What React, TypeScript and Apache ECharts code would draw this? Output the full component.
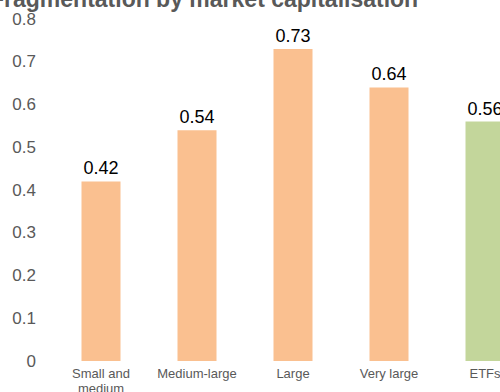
import React, { useEffect, useRef } from "react";
import * as echarts from "echarts";

const categories = ["Small and\nmedium", "Medium-large", "Large", "Very large", "ETFs"];
const values = [0.42, 0.54, 0.73, 0.64, 0.56];
const barColors = ["#FAC090", "#FAC090", "#FAC090", "#FAC090", "#C3D69B"];
const titleText = "Fragmentation by market capitalisation";

export default function App() {
  const ref = useRef<HTMLDivElement>(null);
  useEffect(() => {
    if (!ref.current) return;
    const chart = echarts.init(ref.current, undefined, { renderer: "svg" });
    chart.setOption({
      animation: false,
      title: {
        text: titleText,
        left: -15,
        top: -18,
        textStyle: {
          fontFamily: "Liberation Sans, Arial, sans-serif",
          fontWeight: "bold",
          fontSize: 23,
          color: "#595959",
        },
      },
      grid: { left: 53, right: 0, top: 19, bottom: 31, containLabel: false, outerBoundsMode: "none" },
      xAxis: {
        type: "category",
        data: categories,
        axisLine: { show: false },
        axisTick: { show: false },
        axisLabel: {
          color: "#595959",
          fontSize: 13,
          lineHeight: 15,
          margin: 5,
          interval: 0,
          fontFamily: "Liberation Sans, Arial, sans-serif",
        },
      },
      yAxis: {
        type: "value",
        min: 0,
        max: 0.8,
        interval: 0.1,
        splitLine: { show: false },
        axisLine: { show: false },
        axisTick: { show: false },
        axisLabel: {
          color: "#595959",
          fontSize: 17,
          margin: 17,
          fontFamily: "Liberation Sans, Arial, sans-serif",
        },
      },
      series: [
        {
          type: "bar",
          barWidth: 39,
          data: values.map((v, i) => ({ value: v, itemStyle: { color: barColors[i] } })),
          label: {
            show: true,
            position: "top",
            distance: 4,
            color: "#000000",
            fontSize: 18,
            fontFamily: "Liberation Sans, Arial, sans-serif",
          },
        },
      ],
    });
    return () => chart.dispose();
  }, []);
  return (
    <div
      style={{ position: "fixed", left: 0, top: 0, width: 500, height: 392, overflow: "hidden", background: "#ffffff" }}
    >
      <div ref={ref} style={{ position: "absolute", left: 0, top: 0, width: 533, height: 392 }} />
    </div>
  );
}
